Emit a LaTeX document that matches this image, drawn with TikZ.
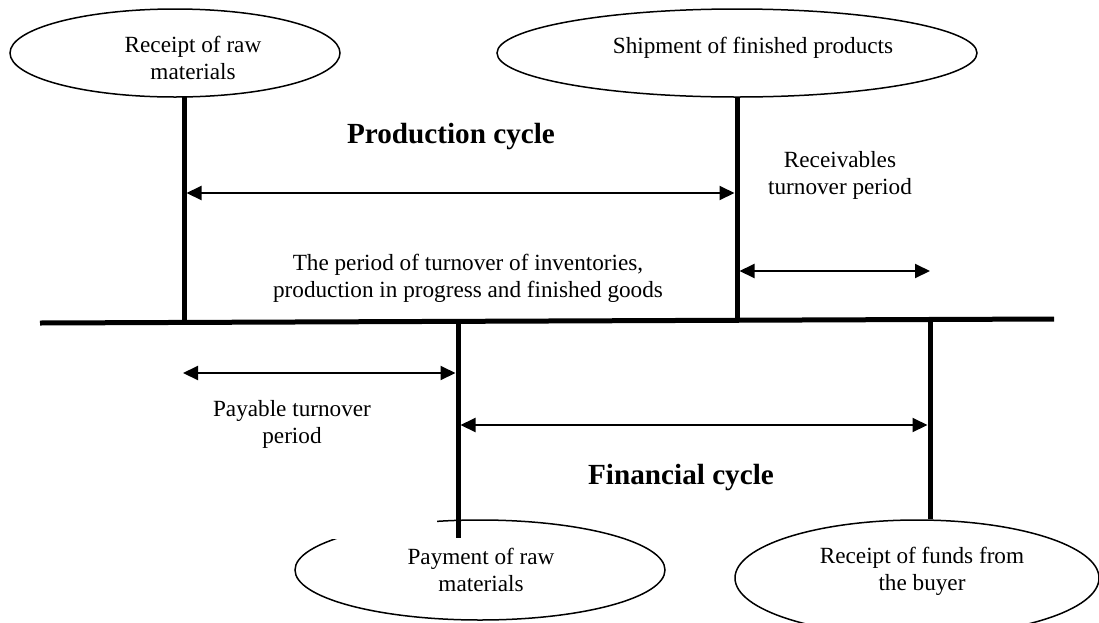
\documentclass[tikz,border=0pt]{standalone}
\usepackage{fontspec}
\setmainfont{Liberation Serif}
\usetikzlibrary{shapes.geometric,arrows.meta}
\newcommand{\twoline}[2]{\begin{tabular}[t]{@{}c@{}}#1\\#2\end{tabular}}
\begin{document}
\begin{tikzpicture}[x=0.5pt,y=-0.5pt,
  event/.style={draw,ellipse,line width=0.75pt,inner sep=0pt},
  lbl/.style={font=\fontsize{11.6}{13.5}\selectfont,inner sep=0pt,anchor=base},
  cycletitle/.style={font=\fontsize{14.6}{17}\selectfont\bfseries,inner sep=0pt,anchor=base},
  stem/.style={line width=2.5pt,line cap=butt},
  axisline/.style={line width=2.5pt,line cap=butt},
  span/.style={line width=1pt,{Triangle[length=7.5pt,width=7pt]}-{Triangle[length=7.5pt,width=7pt]}}
]
\useasboundingbox (0,0) rectangle (1099,622);

% event ellipses
\node[event,minimum width=165pt,minimum height=44pt] (rawin) at (175,53) {};
\node[event,minimum width=240pt,minimum height=44pt] (ship) at (737,53) {};
\node[event,minimum width=185pt,minimum height=50pt] (pay) at (480,570) {};
\node[event,minimum width=182pt,minimum height=58pt] (funds) at (917,578) {};
% the upper left of the payment ellipse is left open
\fill[white] (285,500) rectangle (437,539);

% time axis
\coordinate (h0) at (40,323);
\coordinate (h1) at (1054,319);
\draw[axisline] (h0) -- (h1);

% event stems
\coordinate (t1) at (184,97);  \coordinate (b1) at (184,322.4);
\coordinate (t2) at (737,97);  \coordinate (b2) at (737,320.3);
\coordinate (t3) at (458,321.5); \coordinate (b3) at (458,538);
\coordinate (t4) at (930,319.5); \coordinate (b4) at (930,519);
\draw[stem] (t1) -- (b1);
\draw[stem] (t2) -- (b2);
\draw[stem] (t3) -- (b3);
\draw[stem] (t4) -- (b4);

% period spans
\coordinate (s1a) at (186.5,193); \coordinate (s1b) at (734.5,193);
\coordinate (s2a) at (739.5,271); \coordinate (s2b) at (930,271);
\coordinate (s3a) at (183,373);   \coordinate (s3b) at (455.5,373);
\coordinate (s4a) at (460.5,425); \coordinate (s4b) at (927.5,425);
\draw[span] (s1a) -- (s1b);
\draw[span] (s2a) -- (s2b);
\draw[span] (s3a) -- (s3b);
\draw[span] (s4a) -- (s4b);

% labels
\node[lbl] (trawin) at (193,52) {\twoline{Receipt of raw}{materials}};
\node[lbl] (tship) at (753,53) {Shipment of finished products};
\node[cycletitle] (prod) at (451,143) {Production cycle};
\node[lbl] (trec) at (840,167) {\twoline{Receivables}{turnover period}};
\node[lbl] (tinv) at (468,270) {\twoline{The period of turnover of inventories,}{production in progress and finished goods}};
\node[lbl] (tpayable) at (292,416) {\twoline{Payable turnover}{period}};
\node[cycletitle] (fin) at (681,484) {Financial cycle};
\node[lbl] (tpay) at (481,564) {\twoline{Payment of raw}{materials}};
\node[lbl] (tfunds) at (922,563) {\twoline{Receipt of funds from}{the buyer}};
\end{tikzpicture}
\end{document}
